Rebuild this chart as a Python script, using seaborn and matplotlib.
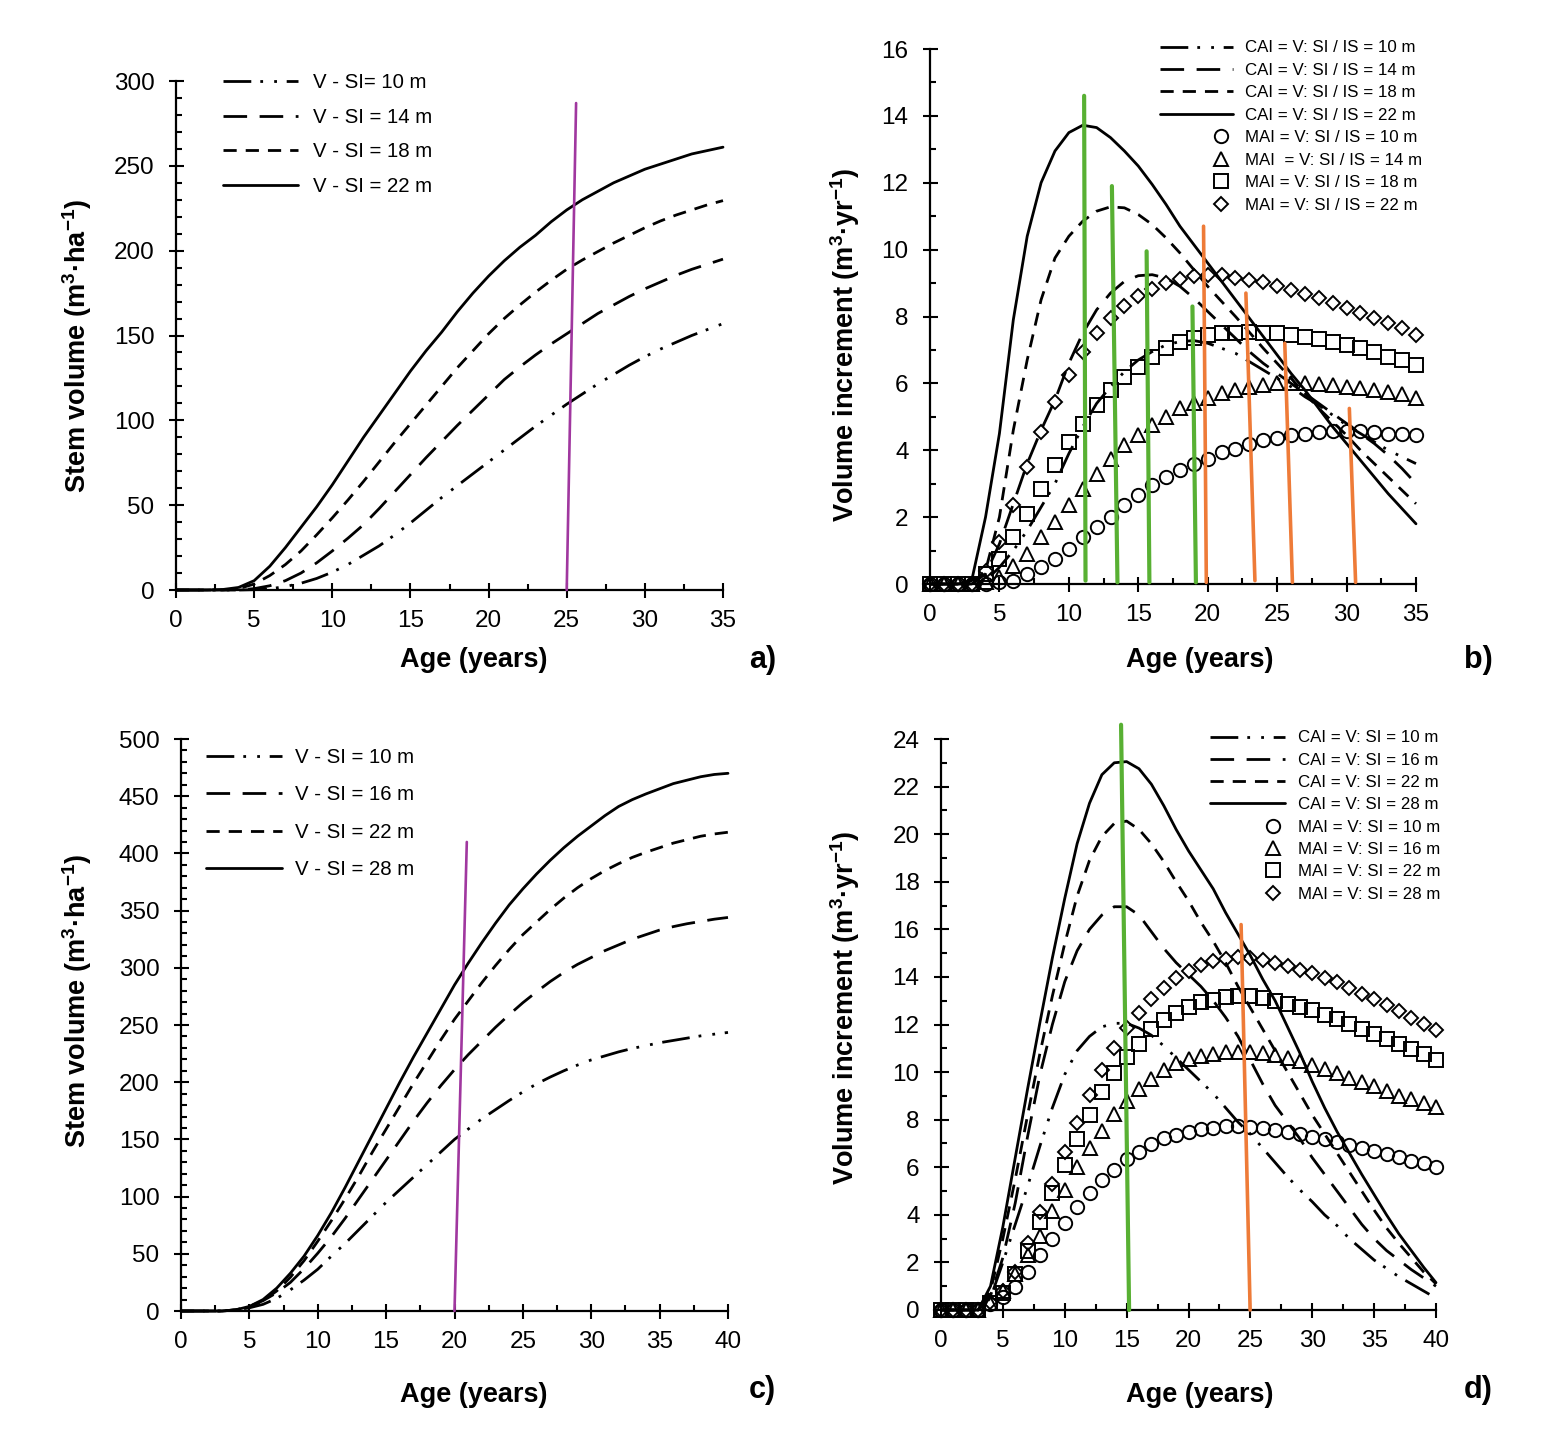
import numpy as np
import matplotlib
matplotlib.use("Agg")
import matplotlib.pyplot as plt
import seaborn as sns
from matplotlib.ticker import MultipleLocator
from matplotlib.legend_handler import HandlerLine2D

# ages
age35 = list(range(36))
age40 = list(range(41))

# panel a: stem volume (m3/ha), SI 10/14/18/22 m
vol_a_si10 = [0, 0, 0, 0, 0, 0.2, 0.7, 2, 4, 6.8, 10.5, 15, 20.5, 26, 32.5, 39.5, 47, 54.5, 61.5, 68.5,
              75.5, 82.5, 89.5, 96.5, 103, 109.5, 115.5, 121.5, 127, 132.5, 137.5, 142, 146, 150, 153.5, 157]
vol_a_si14 = [0, 0, 0, 0, 0, 0.8, 2.5, 5.5, 10, 16, 23, 30.5, 38.5, 48, 58, 68, 78, 87.5, 97, 106,
              115, 124, 131.5, 138.5, 145, 151, 157, 163, 168, 173, 177.5, 181.5, 185.5, 189, 192, 195]
vol_a_si18 = [0, 0, 0, 0, 0.8, 3.5, 8.5, 15, 23, 32.5, 42.5, 53, 64, 75.5, 87, 98, 109, 120, 131, 141,
              151, 160, 168, 175.5, 182.5, 189, 194.5, 199.5, 204.5, 209, 213.5, 217.5, 221, 224, 227, 229.5]
vol_a_si22 = [0, 0, 0, 0.3, 1.5, 5.5, 14, 25, 37, 49, 62, 76, 90, 103, 116, 129, 141, 152, 164, 175,
              185, 194, 202, 209, 217, 224, 230, 235, 240, 244, 248, 251, 254, 257, 259, 261]
guide_a_x = [25.0, 25.6]
guide_a_y = [0, 287]

# panel b: increments (m3/ha/yr)
cai_b_si10 = [0, 0, 0, 0, 0.1, 0.5, 1.0, 1.6, 2.3, 3.0, 3.9, 4.7, 5.4, 5.9, 6.35, 6.7, 6.95, 7.15, 7.25, 7.28,
              7.2, 7.05, 6.9, 6.65, 6.4, 6.15, 5.9, 5.6, 5.35, 5.05, 4.75, 4.5, 4.25, 4.0, 3.8, 3.6]
cai_b_si14 = [0, 0, 0, 0, 0.3, 1.2, 2.4, 3.6, 4.6, 5.5, 6.6, 7.5, 8.2, 8.7, 9.05, 9.22, 9.25, 9.15, 8.9, 8.55,
              8.15, 7.75, 7.35, 6.95, 6.6, 6.3, 6.0, 5.7, 5.4, 5.1, 4.8, 4.5, 4.2, 3.85, 3.45, 3.0]
cai_b_si18 = [0, 0, 0, 0, 0.4, 2.0, 4.6, 6.7, 8.5, 9.75, 10.4, 10.85, 11.15, 11.28, 11.25, 11.05, 10.75, 10.35,
              9.9, 9.4, 8.9, 8.45, 8.0, 7.53, 7.05, 6.6, 6.15, 5.7, 5.25, 4.85, 4.45, 4.0, 3.6, 3.2, 2.8, 2.4]
cai_b_si22 = [0, 0, 0, 0.1, 2.0, 4.5, 7.9, 10.4, 12.0, 12.95, 13.5, 13.72, 13.65, 13.35, 12.95, 12.5, 11.95,
              11.35, 10.7, 10.15, 9.6, 9.05, 8.5, 7.95, 7.4, 6.85, 6.3, 5.8, 5.25, 4.7, 4.2, 3.7, 3.2, 2.7, 2.25, 1.8]
mai_b_si10 = [0, 0, 0, 0, 0, 0.05, 0.1, 0.3, 0.5, 0.75, 1.05, 1.4, 1.7, 2.0, 2.35, 2.65, 2.95, 3.2, 3.4, 3.6,
              3.75, 3.95, 4.05, 4.2, 4.3, 4.38, 4.45, 4.5, 4.55, 4.57, 4.57, 4.57, 4.55, 4.5, 4.48, 4.45]
mai_b_si14 = [0, 0, 0, 0, 0.05, 0.2, 0.55, 0.9, 1.4, 1.85, 2.35, 2.85, 3.3, 3.75, 4.15, 4.45, 4.75, 5.0, 5.25,
              5.4, 5.57, 5.7, 5.8, 5.88, 5.95, 6.0, 6.0, 6.0, 5.98, 5.95, 5.9, 5.85, 5.8, 5.75, 5.68, 5.57]
mai_b_si18 = [0, 0, 0, 0, 0.3, 0.75, 1.4, 2.1, 2.85, 3.55, 4.25, 4.8, 5.35, 5.8, 6.2, 6.5, 6.8, 7.05, 7.25,
              7.35, 7.45, 7.5, 7.52, 7.53, 7.52, 7.5, 7.45, 7.38, 7.32, 7.25, 7.15, 7.05, 6.93, 6.8, 6.7, 6.55]
mai_b_si22 = [0, 0, 0, 0, 0.4, 1.25, 2.35, 3.5, 4.55, 5.45, 6.25, 6.93, 7.5, 7.95, 8.3, 8.6, 8.83, 9.0, 9.12,
              9.2, 9.23, 9.23, 9.15, 9.1, 9.02, 8.92, 8.8, 8.68, 8.55, 8.4, 8.25, 8.1, 7.95, 7.8, 7.65, 7.45]
green_b = [((11.2, 0.1), (11.1, 14.6)), ((13.5, 0.05), (13.1, 11.9)),
           ((15.8, 0.05), (15.6, 9.95)), ((19.15, 0.05), (18.9, 8.3))]
orange_b = [((19.9, 0.05), (19.7, 10.7)), ((23.4, 0.1), (22.75, 8.7)),
            ((26.1, 0.05), (25.55, 7.2)), ((30.65, 0.05), (30.2, 5.25))]

# panel c: stem volume, SI 10/16/22/28 m
vol_c_si10 = [0, 0, 0, 0, 0.8, 2.8, 5.8, 11, 18.5, 27, 36.5, 48, 59, 71, 83, 95, 106, 117, 128, 139, 150,
              159, 168, 176, 184, 191.5, 198.5, 204.5, 210, 215, 219.5, 223, 226.5, 229.5, 232, 234.5,
              236.5, 238.5, 240.5, 242, 243.5]
vol_c_si16 = [0, 0, 0, 0, 1, 4, 9, 16, 25, 37, 50.5, 65, 81, 98, 115, 132, 149, 166, 182, 197, 211,
              224, 236, 248, 259, 269.5, 279, 288, 296, 303, 309, 315, 320, 325, 329, 333, 336, 338.5,
              340.5, 342.5, 344]
vol_c_si22 = [0, 0, 0, 0, 1, 3.5, 9, 17.5, 29.5, 44, 61, 79, 98, 118, 139, 159, 179, 199, 218, 237, 255,
              271, 287, 302, 316, 329, 340, 351, 361, 370, 378, 385, 391, 396.5, 401, 405, 409, 412, 415,
              417, 418.5]
vol_c_si28 = [0, 0, 0, 0, 1, 4, 10, 20, 33, 48, 66, 86, 108, 131, 154, 177, 200, 222, 243, 264, 285,
              304, 322, 339, 355, 369, 382, 394, 405, 415, 424, 433, 441, 447, 452, 456.5, 461, 464, 467,
              469, 470]
guide_c_x = [20.0, 20.9]
guide_c_y = [0, 410]

# panel d: increments
cai_d_si10 = [0, 0, 0, 0, 0.5, 2.0, 3.6, 5.2, 6.9, 8.5, 9.9, 10.9, 11.5, 11.9, 12.05, 12.05, 11.85, 11.55,
              11.1, 10.6, 10.1, 9.6, 9.1, 8.5, 7.9, 7.4, 6.8, 6.2, 5.6, 5.05, 4.55, 4.0, 3.55, 3.0, 2.55,
              2.1, 1.75, 1.4, 1.1, 0.8, 0.5]
cai_d_si16 = [0, 0, 0, 0, 0.6, 2.2, 4.5, 7.3, 9.9, 12.0, 13.8, 15.1, 16.0, 16.6, 16.95, 16.95, 16.6, 15.9,
              15.2, 14.6, 14.1, 13.6, 13.0, 12.3, 11.5, 10.5, 9.5, 8.6, 7.9, 7.2, 6.4, 5.7, 5.0, 4.3, 3.6,
              3.0, 2.5, 2.1, 1.7, 1.35, 1.0]
cai_d_si22 = [0, 0, 0, 0, 0.8, 3.0, 5.5, 8.2, 10.8, 13.2, 15.4, 17.4, 18.9, 19.9, 20.45, 20.55, 20.2, 19.6,
              18.85, 18.0, 17.2, 16.3, 15.5, 14.6, 13.6, 12.7, 11.8, 10.9, 10.0, 9.1, 8.2, 7.4, 6.6, 5.8,
              5.0, 4.2, 3.45, 2.8, 2.2, 1.6, 1.1]
cai_d_si28 = [0, 0, 0, 0, 1.0, 3.5, 6.4, 9.3, 12.1, 14.8, 17.3, 19.6, 21.3, 22.5, 23.0, 23.05, 22.75, 22.1,
              21.2, 20.2, 19.3, 18.5, 17.7, 16.7, 15.8, 14.9, 13.9, 13.0, 11.9, 10.8, 9.6, 8.5, 7.5, 6.6,
              5.7, 4.85, 4.0, 3.2, 2.5, 1.8, 1.15]
mai_d_si10 = [0, 0, 0, 0, 0.25, 0.56, 0.96, 1.6, 2.3, 3.0, 3.65, 4.35, 4.9, 5.45, 5.9, 6.33, 6.65, 6.97,
              7.21, 7.37, 7.5, 7.61, 7.66, 7.72, 7.72, 7.69, 7.64, 7.56, 7.5, 7.4, 7.29, 7.18, 7.05, 6.92,
              6.81, 6.7, 6.57, 6.44, 6.28, 6.17, 6.01]
mai_d_si16 = [0, 0, 0, 0, 0.3, 0.8, 1.5, 2.3, 3.1, 4.15, 5.05, 6.0, 6.8, 7.53, 8.25, 8.8, 9.3, 9.7, 10.1,
              10.4, 10.55, 10.66, 10.75, 10.83, 10.86, 10.83, 10.8, 10.72, 10.6, 10.48, 10.3, 10.13, 9.97,
              9.75, 9.58, 9.42, 9.21, 9.0, 8.85, 8.7, 8.54]
mai_d_si22 = [0, 0, 0, 0, 0.3, 0.7, 1.5, 2.5, 3.7, 4.9, 6.1, 7.2, 8.2, 9.15, 9.95, 10.65, 11.2, 11.8, 12.2,
              12.5, 12.75, 12.95, 13.05, 13.15, 13.2, 13.2, 13.1, 13.0, 12.87, 12.75, 12.6, 12.42, 12.23,
              12.02, 11.8, 11.58, 11.4, 11.2, 10.95, 10.75, 10.5]
mai_d_si28 = [0, 0, 0, 0, 0.35, 0.8, 1.6, 2.8, 4.1, 5.3, 6.65, 7.85, 9.05, 10.1, 11.0, 11.85, 12.5, 13.06,
              13.54, 13.94, 14.26, 14.5, 14.66, 14.74, 14.82, 14.78, 14.73, 14.58, 14.47, 14.31, 14.15,
              13.97, 13.78, 13.54, 13.3, 13.06, 12.82, 12.55, 12.29, 12.02, 11.75]
green_d = [((15.2, 0), (14.55, 24.6))]
orange_d = [((24.98, 0), (24.25, 16.2))]

labels_a = ["V - SI= 10 m", "V - SI = 14 m", "V - SI = 18 m", "V - SI = 22 m"]
labels_c = ["V - SI = 10 m", "V - SI = 16 m", "V - SI = 22 m", "V - SI = 28 m"]
labels_b_cai = ["CAI = V: SI / IS = 10 m", "CAI = V: SI / IS = 14 m",
                "CAI = V: SI / IS = 18 m", "CAI = V: SI / IS = 22 m"]
labels_b_mai = ["MAI = V: SI / IS = 10 m", "MAI  = V: SI / IS = 14 m",
                "MAI = V: SI / IS = 18 m", "MAI = V: SI / IS = 22 m"]
labels_d_cai = ["CAI = V: SI = 10 m", "CAI = V: SI = 16 m", "CAI = V: SI = 22 m", "CAI = V: SI = 28 m"]
labels_d_mai = ["MAI = V: SI = 10 m", "MAI = V: SI = 16 m", "MAI = V: SI = 22 m", "MAI = V: SI = 28 m"]

# ---- style ----
sns.set_style("ticks")
plt.rcParams["font.family"] = ["Liberation Sans", "DejaVu Sans"]
plt.rcParams["mathtext.default"] = "regular"
plt.rcParams["lines.scale_dashes"] = False
plt.rcParams["axes.linewidth"] = 1.6
for key in ["text.color", "axes.labelcolor", "xtick.color", "ytick.color", "axes.edgecolor"]:
    plt.rcParams[key] = "black"

DASHES = [(0, (20, 6.5, 2, 8, 2, 7)), (0, (17, 9)), (0, (9.5, 6.5)), "-"]
MARKERS = [("o", 9.6), ("^", 9.8), ("s", 10.0), ("D", 7.0)]
GREEN = "#58B033"
ORANGE = "#EE7B38"
PURPLE = "#A0379F"
LW = 2.0
LABEL_SIZE = 19.5
LEG_BIG = 14.7
LEG_SMALL = 12.2

W, H = 1553, 1439
fig = plt.figure(figsize=(W / 100, H / 100), dpi=100)
fig.patch.set_facecolor("white")


def fx(px):
    return px / W


def fy(py):
    return 1 - py / H


def px_axes(l, r, b, t):
    return fig.add_axes([fx(l), fy(b), (r - l) / W, (b - t) / H])


class RightMarker(HandlerLine2D):
    # legend marker sits near the right end of the handle, as in the original
    def create_artists(self, legend, orig_handle, xdescent, ydescent, width, height, fontsize, trans):
        artists = super().create_artists(legend, orig_handle, xdescent, ydescent,
                                         width, height, fontsize, trans)
        line = artists[0]
        x = np.asarray(line.get_xdata(), dtype=float)
        if len(x) == 3:
            line.set_xdata([x[0], x[0] + 0.84 * (x[-1] - x[0]), x[-1]])
        return artists


def style_axes(ax, xmax, ymax, ymaj, ymin_):
    sns.despine(ax=ax)
    ax.set_xlim(0, xmax)
    ax.set_ylim(0, ymax)
    ax.xaxis.set_major_locator(MultipleLocator(5))
    ax.xaxis.set_minor_locator(MultipleLocator(2.5))
    ax.yaxis.set_major_locator(MultipleLocator(ymaj))
    ax.yaxis.set_minor_locator(MultipleLocator(ymin_))
    ax.tick_params(which="major", direction="inout", length=10.8, width=1.5, labelsize=17.5)
    ax.tick_params(axis="x", which="major", pad=9)
    ax.tick_params(axis="y", which="major", pad=10)
    ax.tick_params(which="minor", direction="in", length=4.5, width=1.5)


def set_labels(ax, ylabel, ycx, ycy, xcx, xcy):
    ax.set_xlabel("Age (years)", fontsize=LABEL_SIZE, fontweight="bold")
    ax.set_ylabel(ylabel, fontsize=LABEL_SIZE, fontweight="bold")
    ax.xaxis.set_label_coords(fx(xcx), fy(xcy), transform=fig.transFigure)
    ax.yaxis.set_label_coords(fx(ycx), fy(ycy), transform=fig.transFigure)
    ax.xaxis.label.set_va("center")
    ax.yaxis.label.set_va("center")


def guide(ax, x, y, color, lw):
    sns.lineplot(x=x, y=y, ax=ax, color=color, linewidth=lw, clip_on=False, zorder=5,
                 estimator=None, sort=False)


def volume_panel(ax, ages, series, labels, gx, gy):
    for vals, ls, lab in zip(series, DASHES, labels):
        sns.lineplot(x=ages, y=vals, ax=ax, color="black", linewidth=LW, linestyle=ls,
                     label=lab, clip_on=False)
    guide(ax, gx, gy, PURPLE, 1.9)


def increment_panel(ax, ages, cai, mai, lab_cai, lab_mai, greens, oranges):
    for vals, ls, lab in zip(cai, DASHES, lab_cai):
        sns.lineplot(x=ages, y=vals, ax=ax, color="black", linewidth=LW, linestyle=ls,
                     label=lab, clip_on=False)
    for vals, (mk, ms), lab in zip(mai, MARKERS, lab_mai):
        sns.lineplot(x=ages, y=vals, ax=ax, color="black", linestyle="", marker=mk,
                     markersize=ms, markerfacecolor="none", markeredgecolor="black",
                     markeredgewidth=1.4, label=lab, clip_on=False)
    for (p0, p1) in greens:
        guide(ax, [p0[0], p1[0]], [p0[1], p1[1]], GREEN, 3.0)
    for (p0, p1) in oranges:
        guide(ax, [p0[0], p1[0]], [p0[1], p1[1]], ORANGE, 2.6)


def place_legend(ax, left_px, top_px, size, hlen, pad, spacing):
    handles, labels = ax.get_legend_handles_labels()
    ax.legend(handles, labels, loc="upper left",
              bbox_to_anchor=(fx(left_px), fy(top_px)), bbox_transform=fig.transFigure,
              frameon=False, borderpad=0, borderaxespad=0, handlelength=hlen,
              handletextpad=pad, labelspacing=spacing, numpoints=1,
              prop={"size": size}, handler_map={type(handles[0]): RightMarker()})


# panel a
ax_a = px_axes(176, 723, 590, 81)
volume_panel(ax_a, age35, [vol_a_si10, vol_a_si14, vol_a_si18, vol_a_si22], labels_a,
             guide_a_x, guide_a_y)
style_axes(ax_a, 35, 300, 50, 10)
set_labels(ax_a, "Stem volume (m$^3$·ha$^{-1}$)", 77, 346, 474, 660)
place_legend(ax_a, 223, 73, LEG_BIG, 3.68, 0.74, 0.77)

# panel b
ax_b = px_axes(930, 1416, 584, 49)
increment_panel(ax_b, age35, [cai_b_si10, cai_b_si14, cai_b_si18, cai_b_si22],
                [mai_b_si10, mai_b_si14, mai_b_si18, mai_b_si22], labels_b_cai, labels_b_mai,
                green_b, orange_b)
style_axes(ax_b, 35, 16, 2, 1)
set_labels(ax_b, "Volume increment (m$^3$·yr$^{-1}$)", 845, 345, 1200, 660)
place_legend(ax_b, 1160, 40.5, LEG_SMALL, 4.3, 0.71, 0.44)

# panel c
ax_c = px_axes(181, 728, 1311, 739)
volume_panel(ax_c, age40, [vol_c_si10, vol_c_si16, vol_c_si22, vol_c_si28], labels_c,
             guide_c_x, guide_c_y)
style_axes(ax_c, 40, 500, 50, 10)
set_labels(ax_c, "Stem volume (m$^3$·ha$^{-1}$)", 77, 1001, 474, 1395)
place_legend(ax_c, 206, 748, LEG_BIG, 3.73, 0.64, 0.9)

# panel d
ax_d = px_axes(941, 1436, 1310, 739)
increment_panel(ax_d, age40, [cai_d_si10, cai_d_si16, cai_d_si22, cai_d_si28],
                [mai_d_si10, mai_d_si16, mai_d_si22, mai_d_si28], labels_d_cai, labels_d_mai,
                green_d, orange_d)
style_axes(ax_d, 40, 24, 2, 1)
set_labels(ax_d, "Volume increment (m$^3$·yr$^{-1}$)", 845, 1008, 1200, 1395)
place_legend(ax_d, 1210, 730.5, LEG_SMALL, 4.44, 0.77, 0.43)

for txt, cx, cy in [("a)", 763, 660), ("b)", 1478, 660), ("c)", 762, 1390), ("d)", 1478, 1390)]:
    fig.text(fx(cx), fy(cy), txt, fontsize=22, fontweight="bold", ha="center", va="center")

fig.savefig("out.png", dpi=100, facecolor="white")
